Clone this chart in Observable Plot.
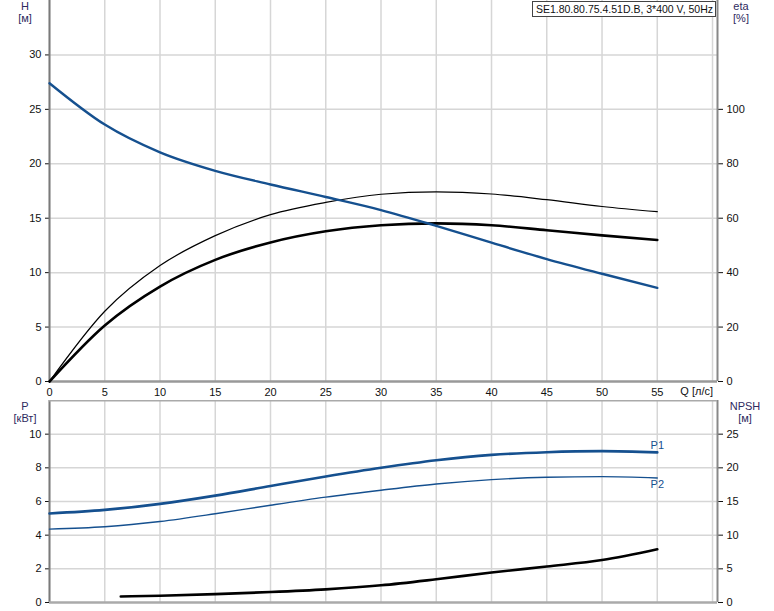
<!DOCTYPE html>
<html><head><meta charset="utf-8">
<script src="https://cdn.jsdelivr.net/npm/d3@7"></script>
<script src="https://cdn.jsdelivr.net/npm/@observablehq/plot@0.6"></script>
<style>
body{margin:0;background:#fff;font-family:"Liberation Sans",Arial,sans-serif;}
#wrap{position:relative;width:774px;height:611px;overflow:hidden;}
.lbl{position:absolute;font-size:11px;color:#2e2a5e;text-align:center;line-height:12px;white-space:nowrap;}
.box{position:absolute;font-size:10.5px;color:#111;border:1px solid #444;background:#fff;padding:1px 2px 1px 3px;line-height:12px;white-space:nowrap;}
</style></head><body><div id="wrap"></div>
<script>
// ---- data ----
const qTop = [0, 5, 10, 15, 20, 25, 30, 35, 40, 45, 50, 55];
const headH = [27.4, 23.6, 21.05, 19.35, 18.1, 16.95, 15.75, 14.3, 12.75, 11.25, 9.9, 8.6];
const etaThin = [0, 25.8, 42.6, 53.6, 61.3, 65.8, 68.8, 69.7, 68.9, 66.8, 64.3, 62.4];
const etaThick = [0, 20.6, 34.9, 44.7, 51.1, 55.2, 57.4, 58.1, 57.4, 55.6, 53.7, 52.0];

const qP = [0, 5, 10, 15, 20, 25, 30, 35, 40, 45, 50, 55];
const p1 = [5.29, 5.5, 5.86, 6.35, 6.92, 7.48, 8.0, 8.45, 8.77, 8.93, 8.99, 8.92];
const p2 = [4.36, 4.5, 4.81, 5.27, 5.78, 6.26, 6.67, 7.04, 7.3, 7.44, 7.48, 7.4];

const qN = [6.45, 10, 15, 20, 25, 30, 35, 40, 45, 50, 55];
const npsh = [0.9, 1.0, 1.25, 1.55, 1.95, 2.55, 3.45, 4.45, 5.35, 6.3, 7.9];

const xTicks = [0, 5, 10, 15, 20, 25, 30, 35, 40, 45, 50, 55];
const xGrid = [0, 5, 10, 15, 20, 25, 30, 35, 40, 45, 50, 55, 60];
const hTicks = [0, 5, 10, 15, 20, 25, 30];
const etaTicks = [0, 20, 40, 60, 80, 100];
const pTicks = [0, 2, 4, 6, 8, 10];
const npshTicks = [0, 5, 10, 15, 20, 25];
const chartTitle = "SE1.80.80.75.4.51D.B, 3*400 V, 50Hz";

// ---- tables ----
const topH = qTop.map((q, i) => ({q, v: headH[i]}));
const topE1 = qTop.map((q, i) => ({q, v: etaThin[i] / 4}));
const topE2 = qTop.map((q, i) => ({q, v: etaThick[i] / 4}));
const botP1 = qP.map((q, i) => ({q, v: p1[i]}));
const botP2 = qP.map((q, i) => ({q, v: p2[i]}));
const botN = qN.map((q, i) => ({q, v: npsh[i] / 2.5}));

const blue = "#15508f";
const gridC = "#d6d6d6";
const xMax = 60.45;
const crv = "monotone-x";
const plotStyle = {fontSize: "11px", fontFamily: "'Liberation Sans', Arial, sans-serif", color: "#111", background: "transparent"};

const topChart = Plot.plot({
  width: 774, height: 400,
  marginLeft: 49, marginRight: 57, marginTop: 0, marginBottom: 19,
  style: plotStyle,
  x: {domain: [0, xMax]},
  y: {domain: [0, 35]},
  marks: [
    Plot.gridX(xGrid, {stroke: gridC, strokeOpacity: 1, strokeWidth: 1.5}),
    Plot.gridY(hTicks.filter(d => d > 0), {stroke: gridC, strokeOpacity: 1, strokeWidth: 1.5}),
    Plot.axisX(xTicks, {tickSize: 0, tickPadding: 7, label: null}),
    Plot.axisY(hTicks, {anchor: "left", tickSize: 4, tickPadding: 4, label: null}),
    Plot.axisY(etaTicks.map(d => d / 4), {anchor: "right", tickSize: 5, tickPadding: 4, tickFormat: d => d * 4, label: null}),
    Plot.ruleX([0], {stroke: "#7a7a7a", strokeWidth: 2}),
    Plot.ruleX([xMax], {stroke: "#888", strokeWidth: 2}),
    Plot.ruleY([0], {stroke: "#999", strokeWidth: 2.5}),
    Plot.line(topE1, {x: "q", y: "v", stroke: "#000", strokeWidth: 1.2, curve: crv}),
    Plot.line(topE2, {x: "q", y: "v", stroke: "#000", strokeWidth: 2.6, curve: crv}),
    Plot.line(topH, {x: "q", y: "v", stroke: blue, strokeWidth: 2.4, curve: crv})
  ]
});

const botChart = Plot.plot({
  width: 774, height: 211,
  marginLeft: 49, marginRight: 57, marginTop: 0, marginBottom: 9,
  style: plotStyle,
  x: {domain: [0, xMax], axis: null},
  y: {domain: [0, 12]},
  marks: [
    Plot.gridX(xGrid, {stroke: gridC, strokeOpacity: 1, strokeWidth: 1.5}),
    Plot.gridY(pTicks.filter(d => d > 0), {stroke: gridC, strokeOpacity: 1, strokeWidth: 1.5}),
    Plot.axisY(pTicks, {anchor: "left", tickSize: 4, tickPadding: 4, label: null}),
    Plot.axisY(npshTicks.map(d => d / 2.5), {anchor: "right", tickSize: 5, tickPadding: 4, tickFormat: d => d * 2.5, label: null}),
    Plot.ruleX([0], {stroke: "#7a7a7a", strokeWidth: 2}),
    Plot.ruleX([xMax], {stroke: "#888", strokeWidth: 2}),
    Plot.ruleY([0], {stroke: "#aaa", strokeWidth: 2.5}),
    Plot.ruleY([12], {stroke: "#aaa", strokeWidth: 2}),
    Plot.line(botN, {x: "q", y: "v", stroke: "#000", strokeWidth: 2.6, curve: crv}),
    Plot.line(botP2, {x: "q", y: "v", stroke: blue, strokeWidth: 1.4, curve: crv}),
    Plot.line(botP1, {x: "q", y: "v", stroke: blue, strokeWidth: 2.6, curve: crv}),
    Plot.text([botP1[botP1.length - 1]], {x: "q", y: "v", text: () => "P1", dy: -7, fill: blue, fontSize: 11}),
    Plot.text([botP2[botP2.length - 1]], {x: "q", y: "v", text: () => "P2", dy: 7, fill: blue, fontSize: 11})
  ]
});

const wrap = document.getElementById("wrap");
topChart.style.position = "absolute"; topChart.style.left = "0px"; topChart.style.top = "0px";
botChart.style.position = "absolute"; botChart.style.left = "0px"; botChart.style.top = "400px";
wrap.appendChild(topChart);
wrap.appendChild(botChart);

function addLabel(lines, x, y) {
  const d = document.createElement("div");
  d.className = "lbl";
  d.innerHTML = lines.join("<br>");
  d.style.left = x + "px"; d.style.top = y + "px";
  d.style.transform = "translateX(-50%)";
  wrap.appendChild(d);
}
addLabel(["H", "[м]"], 25, 0);
addLabel(["eta", "[%]"], 741, 0);
addLabel(["P", "[кВт]"], 25, 400);
addLabel(["NPSH", "[м]"], 745, 400);

const qLab = document.createElement("div");
qLab.className = "lbl"; qLab.style.color = "#111";
qLab.textContent = "Q [л/с]";
qLab.style.left = "713px"; qLab.style.top = "385px"; qLab.style.transform = "translateX(-100%)";
wrap.appendChild(qLab);

const boxEl = document.createElement("div");
boxEl.className = "box";
boxEl.textContent = chartTitle;
boxEl.style.right = (774 - 716) + "px"; boxEl.style.top = "1px";
wrap.appendChild(boxEl);
</script>
</body></html>
